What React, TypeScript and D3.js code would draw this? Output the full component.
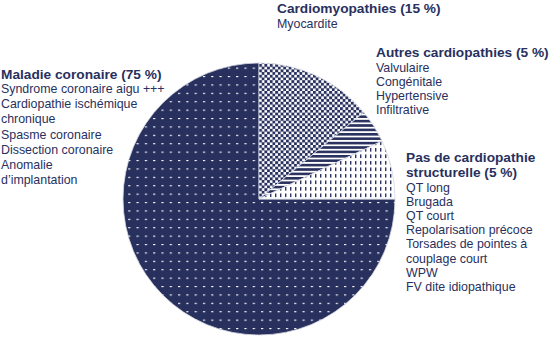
import React from "react";
import * as d3 from "d3";

const NAVY = "#28305e";

const categories = ["Maladie coronaire", "Cardiomyopathies", "Autres cardiopathies", "Pas de cardiopathie structurelle"];
const sliceValues = [75, 14, 4, 7];
const patterns = ["dashes", "checker", "stripes", "vdots"];

const titleLines: string[][] = [
  ["Maladie coronaire (75 %)"],
  ["Cardiomyopathies (15 %)"],
  ["Autres cardiopathies (5 %)"],
  ["Pas de cardiopathie", "structurelle (5 %)"],
];
const itemLines: string[][] = [
  ["Syndrome coronaire aigu +++", "Cardiopathie ischémique", "chronique", "Spasme coronaire", "Dissection coronaire", "Anomalie", "d\u2019implantation"],
  ["Myocardite"],
  ["Valvulaire", "Congénitale", "Hypertensive", "Infiltrative"],
  ["QT long", "Brugada", "QT court", "Repolarisation précoce", "Torsades de pointes à", "couplage court", "WPW", "FV dite idiopathique"],
];
const labelX = [1, 277, 376, 406];
const titleY = [79, 13, 57, 162];
const titleStep = [15, 15, 15, 15];
const itemY = [93, 28, 72, 192];
const itemStep = [15.2, 15, 14, 14.1];

export default function App() {
  const cx = 259, cy = 199, r = 136;
  const pie = d3.pie<number>().sort(null).value((d) => d).startAngle(Math.PI / 2).endAngle(Math.PI / 2 + 2 * Math.PI);
  const arcs = pie(sliceValues);
  const arc = d3.arc<d3.PieArcDatum<number>>().innerRadius(0).outerRadius(r);
  const font = "'Liberation Sans', Arial, Helvetica, sans-serif";
  return (
    <svg width={552} height={357} style={{ position: "absolute", left: 0, top: 0, background: "#fff" }}>
      <defs>
        <pattern id="dashes" patternUnits="userSpaceOnUse" width={8.3} height={8.4} x={2} y={3}>
          <rect width={8.3} height={8.4} fill={NAVY} />
          <rect x={0} y={0} width={2.2} height={1.1} fill="#ffffff" />
        </pattern>
        <pattern id="checker" patternUnits="userSpaceOnUse" width={5.4} height={5.4}>
          <rect width={5.4} height={5.4} fill="#ffffff" />
          <rect x={0} y={0} width={2.9} height={2.9} fill={NAVY} />
          <rect x={2.7} y={2.7} width={2.9} height={2.9} fill={NAVY} />
        </pattern>
        <pattern id="stripes" patternUnits="userSpaceOnUse" width={10} height={4.4}>
          <rect width={10} height={4.4} fill="#ffffff" />
          <rect x={0} y={0} width={10} height={2.6} fill={NAVY} />
        </pattern>
        <pattern id="vdots" patternUnits="userSpaceOnUse" width={5} height={6.5}>
          <rect width={5} height={6.5} fill="#ffffff" />
          <rect x={1} y={1} width={1.4} height={3.6} fill={NAVY} />
        </pattern>
      </defs>
      <g transform={`translate(${cx},${cy})`}>
        {arcs.map((a, i) => (
          <path key={categories[i]} d={arc(a) || ""} fill={`url(#${patterns[i]})`} stroke="#d6d8e2" strokeWidth={0.8} />
        ))}
      </g>
      {categories.map((c, i) => (
        <g key={c} fontFamily={font} fill={NAVY}>
          {titleLines[i].map((t, j) => (
            <text key={t} x={labelX[i]} y={titleY[i] + j * titleStep[i]} fontSize={13.7} fontWeight="bold">
              {t}
            </text>
          ))}
          {itemLines[i].map((t, j) => (
            <text key={t} x={labelX[i]} y={itemY[i] + j * itemStep[i]} fontSize={12.4}>
              {t}
            </text>
          ))}
        </g>
      ))}
    </svg>
  );
}
